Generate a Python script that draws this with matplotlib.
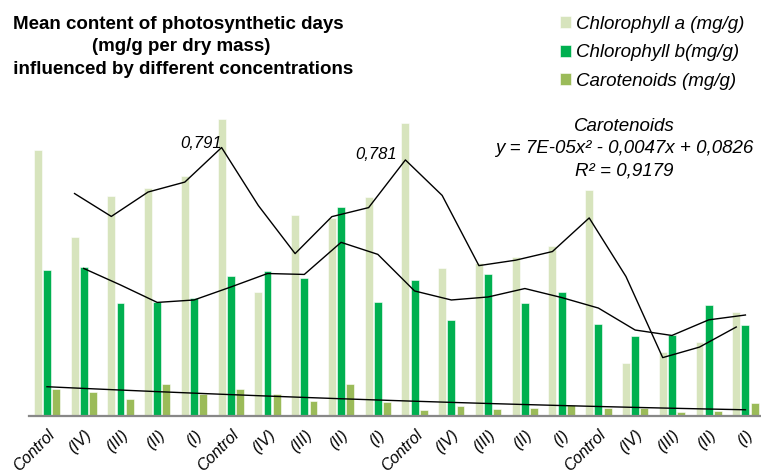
import numpy as np
import pandas as pd
import matplotlib
matplotlib.use("Agg")
import matplotlib.pyplot as plt

plt.rcParams['font.family'] = ['Liberation Sans', 'DejaVu Sans']

categories = ["Control", "(IV)", "(III)", "(II)", "(I)"] * 4
chl_a = [0.708, 0.477, 0.586, 0.607, 0.639, 0.791, 0.330, 0.535, 0.527, 0.583,
         0.781, 0.394, 0.407, 0.423, 0.453, 0.602, 0.141, 0.170, 0.197, 0.277]
chl_b = [0.389, 0.397, 0.301, 0.304, 0.314, 0.373, 0.386, 0.368, 0.557, 0.304,
         0.362, 0.256, 0.378, 0.301, 0.330, 0.245, 0.213, 0.216, 0.296, 0.242]
carot = [0.072, 0.064, 0.045, 0.085, 0.059, 0.072, 0.059, 0.040, 0.085, 0.037,
         0.016, 0.027, 0.019, 0.021, 0.029, 0.021, 0.021, 0.011, 0.013, 0.035]
carot_trend_coef = [7e-05, -0.0047, 0.0826]
carot_r2 = 0.9179
labelled_points = [5, 10]

C_A = "#d7e4bd"
C_B = "#00b050"
C_C = "#9bbb59"

W, H = 761, 470
fig = plt.figure(figsize=(W / 100, H / 100), dpi=100)
ax = fig.add_axes([28.6 / W, 54 / H, 735.2 / W, 316 / H])

x = np.arange(len(categories))
off = 0.25
bw = 0.215
ba = ax.bar(x - off, chl_a, bw, color=C_A, edgecolor="white", linewidth=0.4, label="Chlorophyll a (mg/g)")
bb = ax.bar(x, chl_b, bw, color=C_B, edgecolor="white", linewidth=0.4, label="Chlorophyll b(mg/g)")
bc = ax.bar(x + off, carot, bw, color=C_C, edgecolor="white", linewidth=0.4, label="Carotenoids (mg/g)")

ma_a = pd.Series(chl_a).rolling(2).mean()
ma_b = pd.Series(chl_b).rolling(2).mean()
ax.plot(x - off, ma_a, color="black", lw=1.0)
ax.plot(x, ma_b, color="black", lw=1.0)

xi = x + 1
trend = np.polyval(carot_trend_coef, xi)
ax.plot(x, trend, color="black", lw=1.0)

def fmt(v):
    return f"{v:.3f}".replace(".", ",")

offsets = [(0, 0), (-6, 1)]
for i, o in zip(labelled_points, offsets):
    ax.annotate(fmt(chl_a[i]), xy=(x[i] - off, ma_a[i]), xytext=o, textcoords="offset points",
                ha="right", va="baseline", fontsize=12, style="italic")

ax.set_xlim(-0.5, len(categories) - 0.5)
ax.set_ylim(0, 316 * 0.791 / 297)
for s in ["top", "right", "left"]:
    ax.spines[s].set_visible(False)
ax.spines["bottom"].set_color("#888888")
ax.spines["bottom"].set_linewidth(1.6)
ax.set_yticks([])
ax.set_xticks(x)
ax.set_xticklabels(categories, rotation=45, ha="right", rotation_mode="anchor",
                   fontsize=11.5, style="italic")
ax.tick_params(axis="x", length=0, pad=8)

fig.text(181 / W, 1 - 16 / H,
         "Mean content of photosynthetic days \n(mg/g per dry mass)\n influenced by different concentrations",
         ha="center", va="top", fontsize=13.5, fontweight="bold", linespacing=1.42)

a2, a1, a0 = carot_trend_coef
eq = (f"Carotenoids\ny = {a2:.0E}x² - {abs(a1):.4f}x + {a0:.4f}\nR² = {carot_r2:.4f}")
eq = eq.replace(".", ",")
fig.text(624 / W, 1 - 118 / H, eq, ha="center", va="top", fontsize=13.5, style="italic", linespacing=1.42)

fig.legend(handles=[ba, bb, bc], labels=[ba.get_label(), bb.get_label(), bc.get_label()],
           loc="upper left", bbox_to_anchor=(560 / W, 1 - 16 / H), frameon=False,
           handlelength=0.6, handleheight=0.6, handletextpad=0.25, labelspacing=0.6,
           borderpad=0, borderaxespad=0, prop={"size": 13.5, "style": "italic"})

fig.savefig("out.png", dpi=100)
